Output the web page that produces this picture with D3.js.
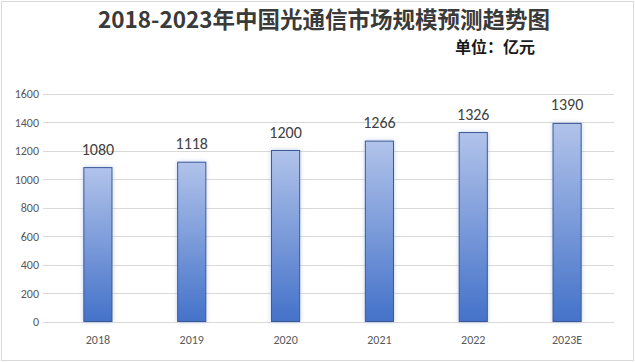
<!DOCTYPE html>
<html><head><meta charset="utf-8">
<script src="https://cdn.jsdelivr.net/npm/d3@7/dist/d3.min.js"></script>
<style>body{margin:0;background:#fff}svg{display:block}</style>
</head><body>
<svg id="c" width="635" height="362"></svg>
<script>
const categories = ["2018","2019","2020","2021","2022","2023E"];
const values = [1080,1118,1200,1266,1326,1390];
const yTicks = [0,200,400,600,800,1000,1200,1400,1600];
const title = "2018-2023年中国光通信市场规模预测趋势图";
const unit = "单位：亿元";

const svg = d3.select("#c");
const W = 635, H = 362;
const font = "'Microsoft YaHei','Noto Sans CJK SC','DejaVu Sans',sans-serif";
const numFont = "Calibri,'Open Sans','Liberation Sans',sans-serif";

svg.append("rect").attr("x",1.5).attr("y",1.5).attr("width",W-3).attr("height",H-3)
  .attr("fill","#fff").attr("stroke","#d9d9d9");

const defs = svg.append("defs");
const g = defs.append("linearGradient").attr("id","bg").attr("x1",0).attr("y1",0).attr("x2",0).attr("y2",1);
g.append("stop").attr("offset","0%").attr("stop-color","#b1c3ea");
g.append("stop").attr("offset","100%").attr("stop-color","#4472c9");
const f = defs.append("filter").attr("id","glow").attr("x","-50%").attr("y","-10%").attr("width","200%").attr("height","120%");
f.append("feGaussianBlur").attr("in","SourceAlpha").attr("stdDeviation",2).attr("result","b");
f.append("feFlood").attr("flood-color","#8fa9e0").attr("flood-opacity",0.6);
f.append("feComposite").attr("in2","b").attr("operator","in").attr("result","s");
const m = f.append("feMerge"); m.append("feMergeNode").attr("in","s"); m.append("feMergeNode").attr("in","SourceGraphic");

const x = d3.scaleBand().domain(categories).range([51,614]).paddingInner(0.7).paddingOuter(0.35);
const y = d3.scaleLinear().domain([0,1600]).range([321.5,93.5]);

// gridlines
svg.append("g").selectAll("line").data(yTicks).join("line")
  .attr("x1",43).attr("x2",614).attr("y1",d=>Math.round(y(d))+0.5).attr("y2",d=>Math.round(y(d))+0.5)
  .attr("stroke","#d9d9d9").attr("stroke-width",1);

// y labels
const ya = d3.axisLeft(y).tickValues(yTicks).tickFormat(d3.format("d")).tickSize(0).tickPadding(0);
svg.append("g").attr("transform","translate(39,0)").call(ya)
  .call(s=>s.select(".domain").remove())
  .call(s=>s.selectAll("text").attr("font-family",numFont).attr("font-size",12).attr("fill","#595959").attr("dy","0.35em"));

// x labels
const xa = d3.axisBottom(x).tickSize(0).tickPadding(0);
svg.append("g").attr("transform","translate(0,335)").call(xa)
  .call(s=>s.select(".domain").remove())
  .call(s=>s.selectAll("text").attr("font-family",numFont).attr("font-size",12).attr("fill","#595959").attr("dy","0.75em"));

// bars
svg.append("g").selectAll("rect").data(values).join("rect")
  .attr("x",(d,i)=>x(categories[i])).attr("width",x.bandwidth())
  .attr("y",d=>y(d)).attr("height",d=>y(0)-y(d))
  .attr("fill","url(#bg)").attr("stroke","#3a5a96").attr("stroke-width",1).attr("filter","url(#glow)");

// value labels
svg.append("g").selectAll("text").data(values).join("text")
  .attr("x",(d,i)=>x(categories[i])+x.bandwidth()/2).attr("y",d=>y(d)-13)
  .attr("text-anchor","middle").attr("font-family",numFont).attr("font-size",16).attr("fill","#404040")
  .text(d=>d);

svg.append("text").attr("x",324).attr("y",28).attr("text-anchor","middle")
  .attr("font-family",font).attr("font-size",22.5).attr("font-weight","bold").attr("fill","#3a3a3a").text(title);
svg.append("text").attr("x",495).attr("y",53).attr("text-anchor","middle")
  .attr("font-family",font).attr("font-size",16).attr("font-weight","bold").attr("fill","#1a1a1a").text(unit);
</script>
</body></html>
